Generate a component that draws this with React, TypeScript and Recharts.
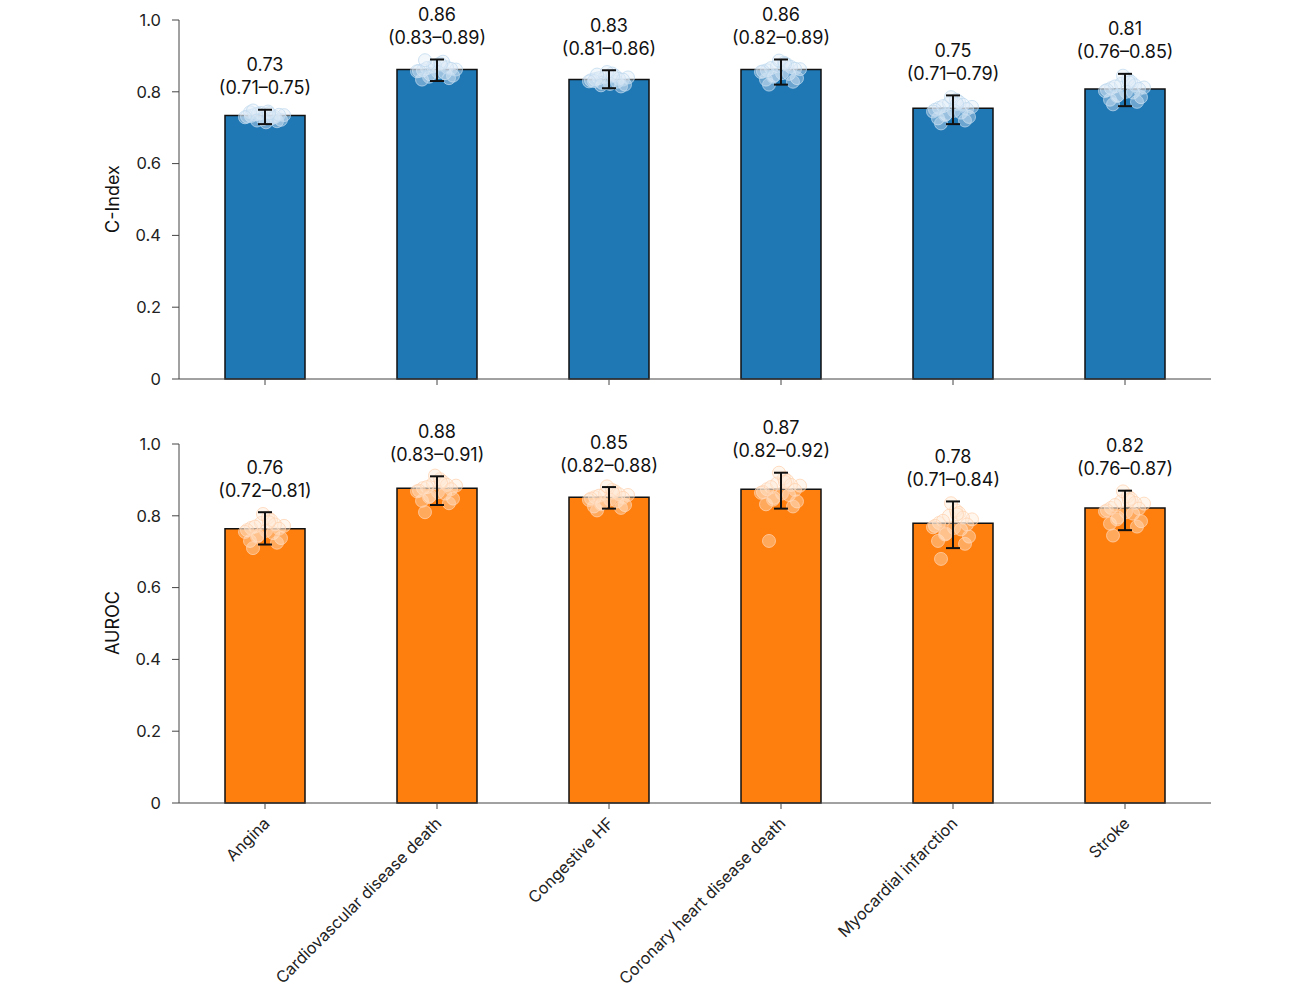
import { ComposedChart, Bar, Scatter, ErrorBar, XAxis, YAxis } from 'recharts';

const CATEGORIES = [
  'Angina',
  'Cardiovascular disease death',
  'Congestive HF',
  'Coronary heart disease death',
  'Myocardial infarction',
  'Stroke',
];

const CINDEX = [0.734, 0.862, 0.834, 0.862, 0.754, 0.808];
const CINDEX_LO = [0.71, 0.83, 0.81, 0.82, 0.71, 0.76];
const CINDEX_HI = [0.75, 0.89, 0.86, 0.89, 0.79, 0.85];

const AUROC = [0.764, 0.877, 0.852, 0.874, 0.779, 0.822];
const AUROC_LO = [0.72, 0.83, 0.82, 0.82, 0.71, 0.76];
const AUROC_HI = [0.81, 0.91, 0.88, 0.92, 0.84, 0.87];

// bootstrap estimates, read off the clouds
const CINDEX_BOOT = [
  [0.733, 0.728, 0.741, 0.722, 0.737, 0.745, 0.718, 0.731, 0.726, 0.739, 0.735, 0.724, 0.743, 0.73, 0.715, 0.748, 0.736, 0.729, 0.74, 0.72],
  [0.86, 0.852, 0.871, 0.845, 0.866, 0.879, 0.838, 0.858, 0.884, 0.849, 0.862, 0.873, 0.834, 0.868, 0.855, 0.888, 0.864, 0.857, 0.876, 0.842],
  [0.835, 0.828, 0.842, 0.82, 0.838, 0.851, 0.815, 0.832, 0.845, 0.825, 0.84, 0.855, 0.83, 0.836, 0.822, 0.848, 0.834, 0.829, 0.844, 0.818],
  [0.86, 0.85, 0.872, 0.838, 0.866, 0.881, 0.828, 0.857, 0.876, 0.845, 0.863, 0.887, 0.834, 0.869, 0.852, 0.82, 0.864, 0.855, 0.878, 0.842],
  [0.755, 0.742, 0.768, 0.73, 0.76, 0.778, 0.72, 0.75, 0.772, 0.738, 0.758, 0.785, 0.726, 0.764, 0.747, 0.712, 0.752, 0.745, 0.766, 0.735],
  [0.81, 0.798, 0.822, 0.785, 0.815, 0.835, 0.772, 0.805, 0.828, 0.79, 0.812, 0.845, 0.778, 0.818, 0.8, 0.765, 0.808, 0.802, 0.826, 0.788],
];

const AUROC_BOOT = [
  [0.766, 0.752, 0.78, 0.738, 0.77, 0.795, 0.725, 0.76, 0.788, 0.745, 0.772, 0.805, 0.73, 0.776, 0.758, 0.71, 0.764, 0.755, 0.782, 0.742],
  [0.877, 0.862, 0.89, 0.848, 0.88, 0.902, 0.835, 0.87, 0.895, 0.855, 0.884, 0.912, 0.842, 0.886, 0.866, 0.81, 0.874, 0.868, 0.892, 0.852],
  [0.852, 0.84, 0.862, 0.83, 0.856, 0.872, 0.822, 0.848, 0.868, 0.835, 0.858, 0.882, 0.826, 0.86, 0.845, 0.815, 0.85, 0.844, 0.864, 0.832],
  [0.874, 0.858, 0.89, 0.84, 0.88, 0.905, 0.826, 0.866, 0.898, 0.85, 0.884, 0.92, 0.832, 0.886, 0.862, 0.73, 0.872, 0.864, 0.894, 0.845],
  [0.78, 0.762, 0.8, 0.742, 0.786, 0.815, 0.722, 0.772, 0.808, 0.75, 0.79, 0.835, 0.73, 0.795, 0.766, 0.68, 0.776, 0.768, 0.804, 0.748],
  [0.822, 0.806, 0.84, 0.785, 0.83, 0.855, 0.77, 0.815, 0.848, 0.795, 0.834, 0.868, 0.778, 0.836, 0.81, 0.745, 0.82, 0.812, 0.844, 0.79],
];

const Y_TICKS = [0, 0.2, 0.4, 0.6, 0.8, 1.0];

const JITTER = [-14, 8, -4, 16, -10, 3, 12, -18, 6, -7, 19, -2, -15, 10, 1, -12, 14, -20, 4, -8];
const FONT = 'Inter, "DejaVu Sans", sans-serif';
const AXIS = '#444';

function buildRows(vals: number[], lo: number[], hi: number[]) {
  return CATEGORIES.map((name, i) => ({
    name,
    v: vals[i],
    lo: lo[i],
    hi: hi[i],
    err: [hi[i] - lo[i], 0],
  }));
}

function buildCloud(boot: number[][]) {
  const out: { name: string; s: number; k: number }[] = [];
  boot.forEach((arr, i) => arr.forEach((s, k) => out.push({ name: CATEGORIES[i], s, k })));
  return out;
}

const fmtY = (v: number) => (v === 0 ? '0' : v.toFixed(1));

function RotatedTick(props: any) {
  const { x, y, payload } = props;
  return (
    <g transform={`translate(${x - 3},${y + 5}) rotate(-45)`}>
      <text textAnchor="end" dy="0.75em" fontSize={16.2} fill="#222" fontFamily={FONT}>
        {payload.value}
      </text>
    </g>
  );
}

function Panel({ rows, cloud, fill, dotFill, dotStroke, showLabels, height, top, bottom }: any) {
  const CloudDot = (p: any) => (
    <circle
      cx={p.cx + JITTER[p.payload.k % JITTER.length]}
      cy={p.cy}
      r={6.5}
      fill={dotFill}
      stroke={dotStroke}
      strokeWidth={1}
    />
  );
  const ValueLabel = (p: any) => (
    <g fontFamily={FONT} fontSize={18} fill="#111" textAnchor="middle">
      <text x={p.cx} y={p.cy - 45} dominantBaseline="central">
        {p.payload.v.toFixed(2)}
      </text>
      <text x={p.cx} y={p.cy - 22} dominantBaseline="central">
        ({p.payload.lo.toFixed(2)}–{p.payload.hi.toFixed(2)})
      </text>
    </g>
  );
  return (
    <ComposedChart
      width={1296}
      height={height}
      data={rows}
      margin={{ top, right: 85, left: 119, bottom }}
    >
      <XAxis
        dataKey="name"
        allowDuplicatedCategory={false}
        stroke={AXIS}
        tickSize={6}
        height={showLabels ? 190 : 15}
        interval={0}
        tick={showLabels ? <RotatedTick /> : () => <g />}
      />
      <YAxis
        domain={[0, 1]}
        ticks={Y_TICKS}
        tickFormatter={fmtY}
        width={60}
        stroke={AXIS}
        tickSize={7}
        tickMargin={11}
        tick={{ fontSize: 16.5, fill: '#222', fontFamily: FONT }}
      />
      <Bar dataKey="v" fill={fill} stroke="#111" strokeWidth={1.5} barSize={80} isAnimationActive={false} />
      <Scatter data={cloud} dataKey="s" shape={CloudDot} isAnimationActive={false} />
      <Scatter data={rows} dataKey="hi" shape={ValueLabel} isAnimationActive={false} zIndex={1200}>
        <ErrorBar
          dataKey="err"
          direction="y"
          width={7}
          stroke="#111"
          strokeWidth={2}
          isAnimationActive={false}
          zIndex={1100}
        />
      </Scatter>
    </ComposedChart>
  );
}

const axisTitle = (text: string, top: number) => (
  <div
    style={{
      position: 'absolute',
      left: 112,
      top,
      transform: 'translate(-50%, -50%) rotate(-90deg)',
      fontFamily: FONT,
      fontSize: 18,
      color: '#111',
      whiteSpace: 'nowrap',
    }}
  >
    {text}
  </div>
);

export default function App() {
  const top = buildRows(CINDEX, CINDEX_LO, CINDEX_HI);
  const bottom = buildRows(AUROC, AUROC_LO, AUROC_HI);
  return (
    <div style={{ position: 'absolute', left: 0, top: 0, width: 1296, height: 1002, background: '#fff' }}>
      <div style={{ position: 'absolute', left: 0, top: 0 }}>
        <Panel
          rows={top}
          cloud={buildCloud(CINDEX_BOOT)}
          fill="#1f77b4"
          dotFill="rgba(222,236,248,0.4)"
          dotStroke="rgba(190,216,238,0.75)"
          showLabels={false}
          height={400}
          top={20}
          bottom={6}
        />
      </div>
      <div style={{ position: 'absolute', left: 0, top: 404 }}>
        <Panel
          rows={bottom}
          cloud={buildCloud(AUROC_BOOT)}
          fill="#ff7f0e"
          dotFill="rgba(255,232,212,0.4)"
          dotStroke="rgba(255,210,175,0.75)"
          showLabels={true}
          height={598}
          top={40}
          bottom={9}
        />
      </div>
      {axisTitle('C-Index', 199)}
      {axisTitle('AUROC', 623)}
    </div>
  );
}
